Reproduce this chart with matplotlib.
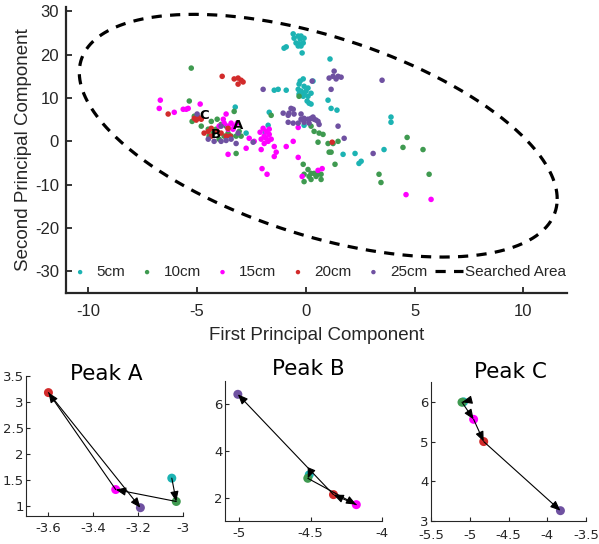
import numpy as np
import matplotlib
matplotlib.use("Agg")
import matplotlib.pyplot as plt

plt.rcParams["axes.unicode_minus"] = False

# ---- datos de la grafica principal (PCA) ----
x5 = [-0.57, -0.53, -0.34, -0.21, -0.07, -0.44, -0.30, -0.11, -0.34, -0.21, -0.25, -0.16, -0.99, -0.89,
      1.12, -0.11, -0.30, -0.07, 0.11, -0.34, -0.21, 0.02, 0.25, -0.30, -0.11, 0.11, -0.07, 0.34, -0.25,
      0.16, 0.25, 0.07, -1.44, -1.26, -0.89, 1.03, 1.17, 1.44, -1.67, -1.72, -1.86, -0.07, -3.23, -2.73,
      3.92, 3.92, 3.60, 2.55, 1.72, 2.27, 2.45]
y5 = [24.8, 23.8, 24.3, 24.3, 23.8, 22.7, 22.5, 22.7, 22.0, 22.0, 23.6, 20.4, 21.5, 21.8,
      19.0, 14.4, 13.2, 12.7, 12.3, 12.0, 11.6, 11.6, 11.1, 10.9, 10.4, 10.4, 11.1, 13.9, 13.9,
      8.8, 8.6, 9.3, 11.8, 12.0, 11.8, 9.5, 7.6, 7.2, 6.7, 3.7, 2.1, 3.7, 7.9, 1.9,
      5.6, 4.4, -1.9, -4.6, -3.0, -2.8, -5.1]

x10 = [-5.25, -5.34, -3.28, -3.19, -5.11, -5.21, -4.98, -4.33, -4.06, -3.88, -4.47, -4.43, -4.24, -3.74,
       -3.56, -3.42, -3.19, -3.05, -4.79, -4.11, -3.65, -3.97, -2.96, 0.25, 0.39, 0.62, 0.80, 0.57,
       1.03, 1.26, 1.49, 1.08, 1.17, 1.35, -0.11, 0.11, 0.25, 0.39, 0.57, -0.07, 0.16, 0.48, 0.71,
       0.25, 0.71, -0.07, 3.37, 3.46, 4.47, 4.66, 5.39, 5.67, -1.58, -0.30]
y10 = [16.9, 9.3, 6.9, -2.8, 5.8, 4.6, 5.3, 4.6, 5.1, 3.9, 2.8, 1.2, 1.9, 1.2,
       1.9, 1.2, 1.2, 2.3, 3.5, 2.8, 3.5, 0.5, 1.2, 3.5, 2.3, 1.9, 1.6, -0.2,
       -0.5, -0.5, 0.0, -2.5, -2.5, -5.3, -5.3, -6.5, -7.4, -7.4, -7.6, -7.6, -8.1, -8.1, -7.6,
       -8.8, -8.8, -9.3, -7.6, -9.5, -1.4, 0.9, -1.9, -7.6, 6.0, 10.4]

x15 = [-6.67, -6.72, -6.03, -5.62, -5.48, -5.39, -4.84, -3.65, -3.78, -3.74, -3.42, -3.28, -3.56, -3.56,
       -3.33, -3.97, -3.14, -3.56, -2.59, -2.73, -2.36, -2.09, -2.04, -1.81, -1.72, -1.90, -1.58, -2.04,
       -2.00, -1.95, -1.81, -1.67, -1.90, -1.67, -1.44, -1.35, -1.44, -0.89, -0.57, -0.34, -1.77, -0.16,
       0.57, 0.76, -0.34, 4.61, 5.76]
y15 = [9.5, 7.6, 6.7, 7.4, 7.4, 7.6, 8.6, 6.3, 5.1, 4.2, 4.2, 3.5, 3.5, 2.8,
       2.8, 3.5, 4.2, -3.0, 0.7, -1.6, 0.0, 2.1, 0.5, 0.7, 0.0, -0.5, 0.5, -1.9,
       -6.3, 3.0, 2.3, 1.6, 1.2, 2.8, -1.2, -2.5, -3.5, -1.2, 0.0, -3.7, -7.6, -8.1,
       -6.7, -6.3, 3.2, -12.3, -13.4]

x20 = [-3.83, -3.28, -3.10, -2.96, -2.87, -3.10, -6.31, -5.11, -4.93, -4.79, -5.02, -4.66, -4.47, -4.33,
       -3.88, -3.65, -3.46, -3.56, -4.33, -4.06, 1.22]
y20 = [15.0, 14.4, 14.6, 14.1, 13.7, 13.2, 6.3, 5.3, 5.6, 5.1, 4.9, 1.9, 2.3, 3.0,
       1.9, 1.2, 1.2, 3.0, 1.2, 2.3, -0.2]

x25 = [-1.95, -4.98, -4.20, -3.88, -3.65, -3.19, -3.10, -2.41, -3.88, -3.42, -4.47, 1.31, 1.26, 1.49,
       1.63, 1.08, 1.40, 0.30, 1.17, 3.51, -1.03, -0.76, -0.57, -0.80, -0.67, -0.53, -0.21, -0.07,
       0.11, 0.25, 0.39, 0.57, -0.21, -0.07, 0.16, 0.62, -0.80, -0.57, -0.34, 0.34, 0.48, 1.49, 1.77, 3.10]
y25 = [12.0, 6.3, 0.0, 3.5, 0.2, -0.5, 1.9, -0.2, 0.0, 0.5, 0.5, 16.2, 15.0, 15.0,
       14.8, 14.6, 14.4, 13.9, 12.0, 14.1, 6.5, 6.5, 7.4, 6.0, 7.6, 6.3, 6.3, 5.3,
       5.1, 5.3, 5.1, 4.6, 5.1, 4.4, 4.2, 3.9, 4.4, 4.2, 4.2, 5.6, 4.9, 3.5, 0.7, -2.8]

# area buscada (elipse): centro y semiejes
elipse_centro = (0.58, 1.3)
elipse_a = 10.97      # componente x
elipse_c = -14.6      # acoplamiento x-y
elipse_d = 23.9       # componente y

# etiquetas de picos en la grafica principal
picos_nombre = ["A", "B", "C"]
picos_x = [-3.10, -4.11, -4.66]
picos_y = [3.7, 1.6, 6.0]

# ---- datos de los picos (orden 5, 10, 15, 20, 25 cm) ----
pico_a_x = [-3.05, -3.03, -3.30, -3.60, -3.19]
pico_a_y = [1.53, 1.08, 1.31, 3.18, 0.96]
pico_b_x = [-4.51, -4.52, -4.18, -4.34, -5.01]
pico_b_y = [2.98, 2.83, 1.70, 2.13, 6.43]
pico_c_x = [-5.08, -5.10, -4.95, -4.82, -3.83]
pico_c_y = [6.00, 5.99, 5.56, 5.00, 3.26]

nombres = ["5cm", "10cm", "15cm", "20cm", "25cm"]
colores = ["#1cb3b3", "#3f9a50", "#ff00ff", "#d22b2b", "#6f51a1"]
gris = "#262626"

W, H = 599, 544
fig = plt.figure(figsize=(W / 100, H / 100), dpi=100)


def caja(izq, der, arriba, abajo):
    return [izq / W, 1 - abajo / H, (der - izq) / W, (abajo - arriba) / H]


# ---------------- grafica principal ----------------
ax = fig.add_axes(caja(66, 567, 7, 293))
fuente = "Liberation Sans"
series = [(x5, y5), (x10, y10), (x15, y15), (x20, y20), (x25, y25)]
for (xs, ys), nom, col in zip(series, nombres, colores):
    ax.scatter(xs, ys, s=16, color=col, edgecolors="none", label=nom, zorder=2)

t = np.linspace(0, 2 * np.pi, 400)
ex = elipse_centro[0] + elipse_a * np.cos(t)
ey = elipse_centro[1] + elipse_c * np.cos(t) + elipse_d * np.sin(t)
ax.plot(ex, ey, color="k", lw=2.3, linestyle=(0, (3.2, 2.6)), label="Searched Area", zorder=3)

for nom, px, py in zip(picos_nombre, picos_x, picos_y):
    ax.text(px, py, nom, fontsize=9.5, fontweight="bold", ha="center", va="center",
            family="DejaVu Sans", zorder=4)

ax.set_xlim(-11, 12)
ax.set_ylim(-35, 31)
ax.set_xticks([-10, -5, 0, 5, 10])
ax.set_yticks([-30, -20, -10, 0, 10, 20, 30])
for lado in ["top", "right"]:
    ax.spines[lado].set_visible(False)
for lado in ["left", "bottom"]:
    ax.spines[lado].set_linewidth(1.6)
    ax.spines[lado].set_color(gris)
ax.tick_params(direction="in", length=4, width=1.3, colors=gris, labelsize=12)
ax.tick_params(axis="y", pad=5)
ax.tick_params(axis="x", pad=8)
for lab in ax.get_xticklabels() + ax.get_yticklabels():
    lab.set_family(fuente)
ax.set_xlabel("First Principal Component", fontsize=13.5, family=fuente, color=gris, va="center")
ax.set_ylabel("Second Principal Component", fontsize=13.5, family=fuente, color=gris, va="center")
ax.xaxis.set_label_coords(0.5, -0.150)
ax.yaxis.set_label_coords(-0.084, 0.5)

leg = ax.legend(loc="center left", bbox_to_anchor=(0.0, 0.073), ncol=6, frameon=False,
                prop={"family": fuente, "size": 11}, handlelength=1.85, handletextpad=0.15,
                columnspacing=0.5, borderpad=0, borderaxespad=0, markerscale=0.8)
for txt in leg.get_texts():
    txt.set_color(gris)

# ---------------- picos ----------------
picos = [
    ("Peak A", pico_a_x, pico_a_y, caja(26, 183, 376, 516), (-3.7, -3.0), (0.8, 3.5),
     [-3.6, -3.4, -3.2, -3], ["-3.6", "-3.4", "-3.2", "-3"], [1, 1.5, 2, 2.5, 3, 3.5],
     ["1", "1.5", "2", "2.5", "3", "3.5"], (106, 380), 4.5),
    ("Peak B", pico_b_x, pico_b_y, caja(225, 382, 381, 521), (-5.1, -4.0), (1, 7),
     [-5, -4.5, -4], ["-5", "-4.5", "-4"], [2, 4, 6], ["2", "4", "6"], (308, 375), 4.5),
    ("Peak C", pico_c_x, pico_c_y, caja(431, 586, 382, 521), (-5.5, -3.5), (3, 6.5),
     [-5.5, -5, -4.5, -4, -3.5], ["-5.5", "-5", "-4.5", "-4", "-3.5"], [3, 4, 5, 6],
     ["3", "4", "5", "6"], (510, 378), 6),
]

for titulo, px, py, pos, xl, yl, xt, xtl, yt, ytl, tpos, xpad in picos:
    a = fig.add_axes(pos)
    for i in range(5):
        a.scatter(px[i], py[i], s=42, color=colores[i], edgecolors="none", zorder=2)
    for i in range(4):
        a.annotate("", xy=(px[i + 1], py[i + 1]), xytext=(px[i], py[i]),
                   arrowprops=dict(arrowstyle="-|>,head_length=0.6,head_width=0.25",
                                   color="k", lw=0.8, shrinkA=0, shrinkB=0,
                                   mutation_scale=10), zorder=3)
    a.set_xlim(*xl)
    a.set_ylim(*yl)
    a.set_xticks(xt)
    a.set_xticklabels(xtl)
    a.set_yticks(yt)
    a.set_yticklabels(ytl)
    for lado in ["top", "right"]:
        a.spines[lado].set_visible(False)
    for lado in ["left", "bottom"]:
        a.spines[lado].set_linewidth(0.8)
        a.spines[lado].set_color(gris)
    a.tick_params(direction="in", length=3, width=0.8, colors=gris, labelsize=9.5)
    a.tick_params(axis="y", pad=1.5)
    a.tick_params(axis="x", pad=xpad)
    fig.text(tpos[0] / W, 1 - tpos[1] / H, titulo, fontsize=15.5, ha="center", va="baseline",
             family="DejaVu Sans")

fig.savefig("out.png", dpi=100)
